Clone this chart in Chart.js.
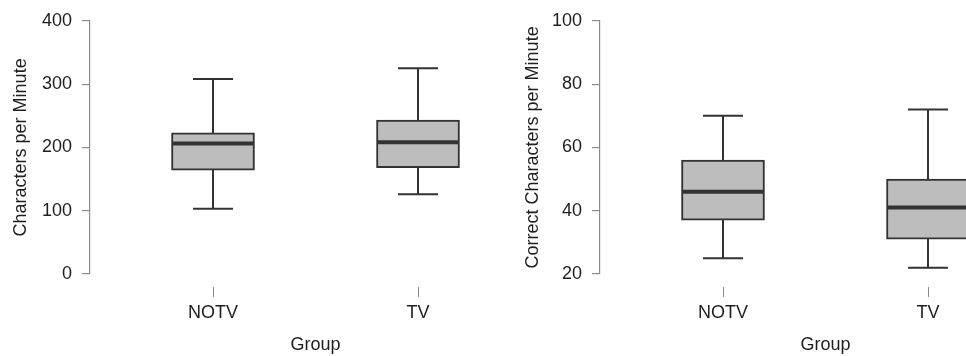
<!DOCTYPE html>
<html>
<head>
<meta charset="utf-8">
<script src="https://cdn.jsdelivr.net/npm/chart.js@4.4.0/dist/chart.umd.min.js"></script>
<style>
  html, body { margin: 0; padding: 0; background: #fff; overflow: hidden; width: 966px; height: 356px; }
  .panel { position: absolute; top: 0; width: 560px; height: 356px; }
</style>
</head>
<body>
<div class="panel" style="left:0"><canvas id="cpm" width="560" height="356"></canvas></div>
<div class="panel" style="left:510px"><canvas id="correct" width="560" height="356"></canvas></div>
<script>
var groups = ['NOTV', 'TV'];

// characters per minute
var cpmLow = [103, 126];
var cpmQ1 = [164, 168];
var cpmMedian = [206, 208];
var cpmQ3 = [223, 243];
var cpmHigh = [308, 325];
var cpmTicks = [0, 100, 200, 300, 400];

// correct characters per minute
var corLow = [25, 22];
var corQ1 = [37, 31];
var corMedian = [46, 41];
var corQ3 = [56, 50];
var corHigh = [70, 72];
var corTicks = [20, 40, 60, 80, 100];

var axisGray = '#8c8c8c';
var lineDark = '#333333';
var textColor = '#1e1e1e';
var fontFam = "'Liberation Sans', Arial, sans-serif";

// whiskers + caps under the box, median over it
var boxExtras = {
    id: 'boxExtras',
    beforeDatasetsDraw: function (chart, args, opts) {
        var ctx = chart.ctx, x = chart.scales.x, y = chart.scales.y;
        ctx.save();
        ctx.strokeStyle = lineDark;
        ctx.lineWidth = 2;
        opts.low.forEach(function (lo, i) {
            var px = x.getPixelForValue(i + 1);
            var yLo = y.getPixelForValue(lo), yHi = y.getPixelForValue(opts.high[i]);
            ctx.beginPath();
            ctx.moveTo(px, yLo); ctx.lineTo(px, yHi);
            ctx.moveTo(px - 20, yLo); ctx.lineTo(px + 20, yLo);
            ctx.moveTo(px - 20, yHi); ctx.lineTo(px + 20, yHi);
            ctx.stroke();
        });
        ctx.restore();
    },
    afterDatasetsDraw: function (chart, args, opts) {
        var ctx = chart.ctx, x = chart.scales.x, y = chart.scales.y;
        ctx.save();
        ctx.strokeStyle = lineDark;
        ctx.lineWidth = 4;
        opts.median.forEach(function (m, i) {
            var px = x.getPixelForValue(i + 1);
            var py = y.getPixelForValue(m);
            ctx.beginPath();
            ctx.moveTo(px - 41, py); ctx.lineTo(px + 41, py);
            ctx.stroke();
        });
        ctx.restore();
    }
};

function makeBoxChart(id, q1, q3, low, median, high, ticks, yTitle, titlePad) {
    var ctx = document.getElementById(id).getContext('2d');
    return new Chart(ctx, {
        type: 'bar',
        data: {
            datasets: [{
                label: yTitle,
                data: groups.map(function (g, i) { return { x: i + 1, y: [q1[i], q3[i]] }; }),
                backgroundColor: '#bdbdbd',
                borderColor: lineDark,
                borderWidth: 2,
                borderSkipped: false,
                barThickness: 83
            }]
        },
        options: {
            responsive: false,
            animation: false,
            layout: { padding: { left: 0, right: 19, top: 17, bottom: 0 } },
            plugins: {
                legend: { display: false },
                tooltip: { enabled: false },
                boxExtras: { low: low, median: median, high: high }
            },
            scales: {
                x: {
                    type: 'linear',
                    min: 0.4,
                    max: 2.6,
                    offset: false,
                    afterBuildTicks: function (axis) {
                        axis.ticks = groups.map(function (g, i) { return { value: i + 1 }; });
                    },
                    afterFit: function (s) { s.height = 82; },
                    border: { display: false },
                    grid: {
                        offset: false,
                        drawOnChartArea: false,
                        drawTicks: true,
                        tickLength: 23,
                        color: axisGray,
                        tickBorderDash: [0, 13, 10, 100]
                    },
                    ticks: {
                        padding: 5,
                        color: textColor,
                        font: { family: fontFam, size: 18 },
                        callback: function (v) { return groups[v - 1]; }
                    },
                    title: {
                        display: true,
                        text: 'Group',
                        color: textColor,
                        font: { family: fontFam, size: 18 },
                        padding: { top: 0, bottom: 0 }
                    }
                },
                y: {
                    min: ticks[0],
                    max: ticks[ticks.length - 1],
                    afterBuildTicks: function (axis) {
                        axis.ticks = ticks.map(function (v) { return { value: v }; });
                    },
                    afterFit: function (s) { s.width = 90; },
                    border: { display: true, color: axisGray, width: 1.2 },
                    grid: {
                        drawOnChartArea: false,
                        drawTicks: true,
                        tickLength: 8,
                        color: axisGray,
                        lineWidth: 1.2
                    },
                    ticks: {
                        padding: 10,
                        color: textColor,
                        font: { family: fontFam, size: 18 }
                    },
                    title: {
                        display: true,
                        text: yTitle,
                        color: textColor,
                        font: { family: fontFam, size: 18 },
                        padding: { top: titlePad, bottom: 0 }
                    }
                }
            }
        },
        plugins: [boxExtras]
    });
}

makeBoxChart('cpm', cpmQ1, cpmQ3, cpmLow, cpmMedian, cpmHigh, cpmTicks, 'Characters per Minute', 10.2);
makeBoxChart('correct', corQ1, corQ3, corLow, corMedian, corHigh, corTicks, 'Correct Characters per Minute', 12.2);
</script>
</body>
</html>
